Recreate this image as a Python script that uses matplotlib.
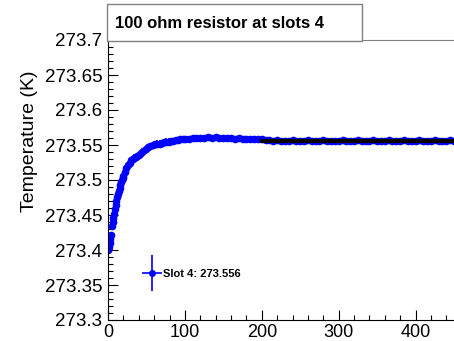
import matplotlib
matplotlib.use('Agg')
import matplotlib.pyplot as plt
from matplotlib.patches import Rectangle
from matplotlib.container import ErrorbarContainer
from matplotlib.legend_handler import HandlerErrorbar

plt.rcParams['font.family'] = ['Liberation Sans', 'DejaVu Sans']

# Slot 4 readings (time in s, temperature in K)
times = [0, 1, 2, 3, 4, 5, 6, 7, 8, 9, 10, 11, 12, 13, 14, 15, 16, 17, 18, 19,
         20, 22, 24, 26, 28, 30, 32, 34, 36, 38, 40, 43, 46, 49, 52, 55, 58, 61,
         64, 67, 70, 73, 76, 79, 82, 85, 88, 91, 94, 97,
         100, 105, 110, 115, 120, 125, 130, 135, 140, 145, 150, 155, 160, 165,
         170, 175, 180, 185, 190, 195, 200, 205, 210, 215, 220, 225, 230, 235,
         240, 245, 250, 255, 260, 265, 270, 275, 280, 285, 290, 295, 300, 305,
         310, 315, 320, 325, 330, 335, 340, 345, 350, 355, 360, 365, 370, 375,
         380, 385, 390, 395, 400, 405, 410, 415, 420, 425, 430, 435, 440, 445,
         450]
temps = [273.400, 273.405, 273.410, 273.416, 273.421, 273.434, 273.440, 273.446,
         273.452, 273.458, 273.464, 273.470, 273.475, 273.480, 273.485, 273.489,
         273.493, 273.497, 273.500, 273.503, 273.506, 273.512, 273.517, 273.521,
         273.525, 273.528, 273.530, 273.532, 273.533, 273.534, 273.536, 273.538,
         273.541, 273.544, 273.547, 273.549, 273.550, 273.551, 273.552, 273.552,
         273.553, 273.554, 273.555, 273.555, 273.556, 273.556, 273.557, 273.557,
         273.558, 273.558,
         273.5585, 273.559, 273.5595, 273.560, 273.560, 273.5605, 273.561,
         273.5605, 273.561, 273.5605, 273.560, 273.5595, 273.560, 273.559,
         273.5595, 273.559, 273.5585, 273.559, 273.5585, 273.558, 273.558,
         273.557, 273.5565, 273.556, 273.5565, 273.556, 273.5555, 273.556,
         273.5565, 273.556, 273.5555, 273.556, 273.5565, 273.556, 273.5555,
         273.556, 273.5565, 273.556, 273.5555, 273.556, 273.556, 273.5565,
         273.556, 273.5555, 273.556, 273.5565, 273.556, 273.5555, 273.556,
         273.5565, 273.556, 273.5555, 273.556, 273.5565, 273.556, 273.5555,
         273.556, 273.5565, 273.556, 273.5555, 273.556, 273.5565, 273.556,
         273.5555, 273.556, 273.5565, 273.556, 273.5555, 273.556, 273.5565,
         273.556]
temp_err = 0.0045

# constant fit over the plateau
fit_range = [200, 450]
fit_value = 273.556

title = "100 ohm resistor at slots 4"
legend_label = "Slot 4: 273.556"

fig = plt.figure(figsize=(4.54, 3.41), dpi=100)
ax = fig.add_axes([108 / 454, 21 / 341, 346 / 454, 280 / 341])

ax.errorbar(times, temps, yerr=temp_err, fmt='o', color='#0000ff', ms=4.5,
            elinewidth=1.2, capsize=0, zorder=2)
ax.plot(fit_range, [fit_value, fit_value], color='black', lw=3, zorder=3)

ax.set_xlim(0, 450)
ax.set_ylim(273.3, 273.7)
ax.set_xticks([0, 100, 200, 300, 400])
ax.set_xticks(range(0, 451, 20), minor=True)
ax.set_yticks([273.3, 273.35, 273.4, 273.45, 273.5, 273.55, 273.6, 273.65, 273.7])
ax.set_yticklabels(['273.3', '273.35', '273.4', '273.45', '273.5', '273.55',
                    '273.6', '273.65', '273.7'])
ax.set_yticks([273.3 + 0.01 * i for i in range(41)], minor=True)
ax.tick_params(which='both', direction='in', labelsize=13.5, width=0.8)
ax.tick_params(which='major', length=7, pad=4)
ax.tick_params(which='minor', length=3.5)
ax.tick_params(axis='x', pad=3, labelsize=13)

ax.spines['right'].set_visible(False)
ax.spines['top'].set_color('#808080')

# legend with cross-shaped error bar marker
proxy = ax.errorbar([], [], xerr=1, yerr=1, fmt='o', color='#0000ff', ms=4,
                    elinewidth=1.2)
leg = ax.legend([proxy], [legend_label], loc='center left',
                bbox_to_anchor=(0.095, 0.164), frameon=False, borderpad=0,
                borderaxespad=0, handletextpad=0.0, handlelength=2.0,
                prop={'size': 8, 'weight': 'bold'},
                handler_map={ErrorbarContainer: HandlerErrorbar(xerr_size=0.9, yerr_size=1.6)})

# title box
fig.patches.append(Rectangle((107 / 454, 300 / 341), 255 / 454, 37 / 341,
                             transform=fig.transFigure, facecolor='white',
                             edgecolor='#808080', lw=1, zorder=5))
fig.text(115 / 454, (341 - 23) / 341, title, fontsize=12, fontweight='bold',
         ha='left', va='center', zorder=6)

fig.text(30 / 454, (341 - 141) / 341, "Temperature (K)", fontsize=14,
         rotation=90, ha='center', va='center')

fig.savefig('out.png', dpi=100)
